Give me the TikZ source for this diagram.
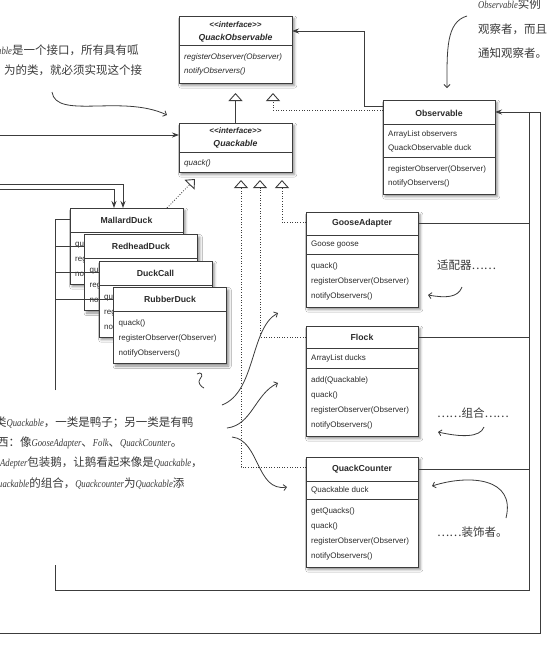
\documentclass[tikz,border=0pt]{standalone}
\usepackage{fontspec}
\usetikzlibrary{arrows.meta,shadows.blur}
\newfontfamily\umlfont{Liberation Sans}
\newfontfamily\cjkfont{Noto Sans CJK SC}
\newfontfamily\hwlatfont{Liberation Serif}[FakeStretch=0.82]
\newcommand{\hwl}[1]{{\hwlatfont\itshape\fontsize{10.5}{12}\selectfont #1}}
\definecolor{boxline}{HTML}{3C3C3C}
\definecolor{txt}{HTML}{2A2A2A}
\definecolor{hand}{HTML}{3A3A3A}
\begin{document}
\begin{tikzpicture}[x=1pt,y=-1pt,
  umlbox/.style={draw=boxline,fill=white,line width=0.8pt,inner sep=0pt,outer sep=0pt,anchor=north west,
     blur shadow={shadow xshift=2.2pt,shadow yshift=-2.6pt,shadow blur radius=2.6pt,shadow opacity=45}},
  sepl/.style={draw=boxline,line width=0.7pt},
  ttl/.style={font=\umlfont\bfseries\fontsize{8.7}{10}\selectfont,text=txt,inner sep=0pt},
  ittl/.style={font=\umlfont\bfseries\itshape\fontsize{8.7}{10}\selectfont,text=txt,inner sep=0pt},
  ster/.style={font=\umlfont\bfseries\itshape\fontsize{8}{10}\selectfont,text=txt,inner sep=0pt},
  mtd/.style={font=\umlfont\fontsize{8}{10}\selectfont,text=txt,inner sep=0pt,anchor=west},
  imtd/.style={font=\umlfont\itshape\fontsize{8}{10}\selectfont,text=txt,inner sep=0pt,anchor=west},
  conn/.style={draw=boxline,line width=0.9pt},
  real/.style={draw=boxline,line width=0.8pt,dash pattern=on 0.9pt off 1.7pt},
  gen/.style={-{Triangle[open,fill=white,length=8pt,width=14pt,line width=0.9pt]}},
  nav/.style={-{Stealth[length=7pt,width=5pt]}},
  hw/.style={font=\cjkfont\fontsize{11.5}{13}\selectfont,text=hand,inner sep=0pt,anchor=west},
  harrow/.style={draw=hand,line width=0.8pt,-{Straight Barb[length=3pt,width=6pt]}},
]
\fill[white] (0,0) rectangle (554,649);
\useasboundingbox (0,0) rectangle (554,649);

% ---------- interface QuackObservable ----------
\node[umlbox,minimum width=113pt,minimum height=67pt] (qobs) at (179,16) {};
\node[ster] (qobsS) at (235.5,25) {<\kern0pt<interface>\kern0pt>};
\node[ittl] (qobsT) at (235.5,38) {QuackObservable};
\draw[sepl] (179,45) -- (292,45);
\node[imtd] (qobsM1) at (184,57) {registerObserver(Observer)};
\node[imtd] (qobsM2) at (184,71) {notifyObservers()};

% ---------- interface Quackable ----------
\node[umlbox,minimum width=113pt,minimum height=49pt] (quackable) at (179,123) {};
\node[ster] (quackS) at (235.5,131) {<\kern0pt<interface>\kern0pt>};
\node[ittl] (quackT) at (235.5,144) {Quackable};
\draw[sepl] (179,152) -- (292,152);
\node[imtd] (quackM1) at (184,163) {quack()};

% ---------- Observable ----------
\node[umlbox,minimum width=112pt,minimum height=94pt] (observable) at (383,100) {};
\node[ttl] (obsT) at (439,113) {Observable};
\draw[sepl] (383,124) -- (495,124);
\node[mtd] (obsA1) at (388,134) {ArrayList observers};
\node[mtd] (obsA2) at (388,148) {QuackObservable duck};
\draw[sepl] (383,157) -- (495,157);
\node[mtd] (obsM1) at (388,169) {registerObserver(Observer)};
\node[mtd] (obsM2) at (388,183) {notifyObservers()};

% ---------- duck classes ----------
\node[umlbox,minimum width=113pt,minimum height=76pt] (mallard) at (70,208) {};
\node[ttl] (malT) at (126.5,220) {MallardDuck};
\draw[sepl] (70,232) -- (183,232);
\node[mtd] (malM1) at (75,244) {quack()};
\node[mtd] (malM2) at (75,259) {registerObserver(Observer)};
\node[mtd] (malM3) at (75,274) {notifyObservers()};

\node[umlbox,minimum width=113pt,minimum height=76pt] (redhead) at (84.5,234.5) {};
\node[ttl] (redT) at (141,246.5) {RedheadDuck};
\draw[sepl] (84.5,258.5) -- (197.5,258.5);
\node[mtd] (redM1) at (89.5,270.5) {quack()};
\node[mtd] (redM2) at (89.5,285.5) {registerObserver(Observer)};
\node[mtd] (redM3) at (89.5,300.5) {notifyObservers()};

\node[umlbox,minimum width=113pt,minimum height=76pt] (duckcall) at (99,261) {};
\node[ttl] (dcT) at (155.5,273) {DuckCall};
\draw[sepl] (99,285) -- (212,285);
\node[mtd] (dcM1) at (104,297) {quack()};
\node[mtd] (dcM2) at (104,312) {registerObserver(Observer)};
\node[mtd] (dcM3) at (104,327) {notifyObservers()};

\node[umlbox,minimum width=113pt,minimum height=76pt] (rubber) at (113.5,287.5) {};
\node[ttl] (rubT) at (170,299) {RubberDuck};
\draw[sepl] (113.5,311.5) -- (226.5,311.5);
\node[mtd] (rubM1) at (118.5,323) {quack()};
\node[mtd] (rubM2) at (118.5,338) {registerObserver(Observer)};
\node[mtd] (rubM3) at (118.5,353) {notifyObservers()};

% ---------- GooseAdapter ----------
\node[umlbox,minimum width=112pt,minimum height=95pt] (goose) at (306,212) {};
\node[ttl] (gT) at (362,223.5) {GooseAdapter};
\draw[sepl] (306,235) -- (418,235);
\node[mtd] (gA1) at (311,245) {Goose goose};
\draw[sepl] (306,254) -- (418,254);
\node[mtd] (gM1) at (311,266) {quack()};
\node[mtd] (gM2) at (311,281) {registerObserver(Observer)};
\node[mtd] (gM3) at (311,296) {notifyObservers()};

% ---------- Flock ----------
\node[umlbox,minimum width=112pt,minimum height=110pt] (flock) at (306,326) {};
\node[ttl] (fT) at (362,337.5) {Flock};
\draw[sepl] (306,348) -- (418,348);
\node[mtd] (fA1) at (311,358) {ArrayList ducks};
\draw[sepl] (306,368) -- (418,368);
\node[mtd] (fM1) at (311,380) {add(Quackable)};
\node[mtd] (fM2) at (311,395) {quack()};
\node[mtd] (fM3) at (311,410) {registerObserver(Observer)};
\node[mtd] (fM4) at (311,425) {notifyObservers()};

% ---------- QuackCounter ----------
\node[umlbox,minimum width=112pt,minimum height=110pt] (counter) at (306,457) {};
\node[ttl] (cT) at (362,469) {QuackCounter};
\draw[sepl] (306,481) -- (418,481);
\node[mtd] (cA1) at (311,490) {Quackable duck};
\draw[sepl] (306,499) -- (418,499);
\node[mtd] (cM1) at (311,511) {getQuacks()};
\node[mtd] (cM2) at (311,526) {quack()};
\node[mtd] (cM3) at (311,541) {registerObserver(Observer)};
\node[mtd] (cM4) at (311,556) {notifyObservers()};

% ---------- free ends ----------
\coordinate (left1) at (0,135);
\coordinate (left2) at (0,184);
\coordinate (left3) at (0,189);
\coordinate (left4) at (0,633);
\coordinate (trunkTop) at (55,219);
\coordinate (trunkGapA) at (55,390);
\coordinate (trunkGapB) at (55,565);
\coordinate (trunkBot) at (55,590);
\coordinate (rightIn) at (529,590);
\coordinate (rightOut) at (540,633);
\coordinate (tipQO1) at (273,93);
\coordinate (tipQ1) at (241,180);
\coordinate (tipQ2) at (260,180);
\coordinate (tipQ3) at (282,180);
\coordinate (tipQ4) at (195,179);
\coordinate (malFoot) at (167,208);
\coordinate (bendA) at (364,31);

% ---------- connectors ----------
\draw[conn,nav] (observable.west |- 0,106) -| (bendA) -- (qobs.east |- bendA);
\draw[real,gen] (observable.west |- 0,110) -| (tipQO1);
\draw[conn,gen] (quackable.north) -- ++(0,-30);

\draw[real,gen] (goose.west |- 0,222) -| (tipQ3);
\draw[real,gen] (flock.west |- 0,337) -| (tipQ2);
\draw[real,gen] (counter.west |- 0,467) -| (tipQ1);
\draw[real,gen] (malFoot) -- (tipQ4);

\draw[conn,nav] (left1) -- (quackable.west |- left1);
\draw[conn,nav] (left2) -| (mallard.north -| 123,0);
\draw[conn,nav] (left3) -| (mallard.north -| 114,0);

\draw[conn] (trunkGapA) -- (trunkTop) -- (mallard.west |- trunkTop);
\draw[conn] (55,246) -- (redhead.west |- 0,246);
\draw[conn] (55,272) -- (duckcall.west |- 0,272);
\draw[conn] (55,299) -- (rubber.west |- 0,299);
\draw[conn] (trunkGapB) -- (trunkBot) -- (rightIn) -- (529,112);
\draw[conn] (goose.east |- 0,223) -- (529,223);
\draw[conn] (flock.east |- 0,337) -- (529,337);
\draw[conn] (counter.east |- 0,469) -- (529,469);
\draw[conn,nav] (left4) -- (rightOut) -- (540,112) -- (observable.east |- 0,112);

% ---------- handwritten notes ----------
\node[hw] (noteA1) at (-3,50) {\hwl{able}是一个接口，所有具有呱};
\node[hw] (noteA2) at (4,70) {为的类，就必须实现这个接};
\draw[harrow] (52,92) .. controls (56,120) and (122,94) .. (167,115);

\node[hw] (noteB1) at (478,4) {\hwl{Observable}实例};
\node[hw] (noteB2) at (478,29) {观察者，而且};
\node[hw] (noteB3) at (478,53) {通知观察者。};
\draw[harrow] (467,16) .. controls (446,22) and (447,50) .. (447,88);

\node[hw] (noteC) at (437,265) {适配器……};
\draw[harrow] (462,287) .. controls (458,298) and (445,298) .. (428,295);

\node[hw] (noteD) at (437,413) {……组合……};
\draw[harrow] (484,427) .. controls (480,438) and (460,437) .. (438,432);

\node[hw] (noteE) at (437,532) {……装饰者。};
\draw[harrow] (506,518) .. controls (516,478) and (470,474) .. (432,486);

\node[hw] (noteF1) at (-5,423) {类\hwl{Quackable}，一类是鸭子；另一类是有鸭};
\node[hw] (noteF2) at (-3,443) {西：像\hwl{GooseAdapter}、\hwl{Folk}、\hwl{QuackCounter}。};
\node[hw] (noteF3) at (0,463) {\hwl{Adepter}包装鹅，让鹅看起来像是\hwl{Quackable}，};
\node[hw] (noteF4) at (-2,483) {\hwl{uackable}的组合，\hwl{Quackcounter}为\hwl{Quackable}添};
\draw[harrow] (222,405) .. controls (256,392) and (250,328) .. (278,313);
\draw[harrow] (227,428) .. controls (252,425) and (255,394) .. (278,383);
\draw[harrow] (232,437) .. controls (260,440) and (256,492) .. (287,487);

\draw[draw=hand,line width=0.8pt] (197,374) .. controls (201,371) and (204,375) .. (200,379) .. controls (197,382) and (201,387) .. (204,388);
\end{tikzpicture}
\end{document}
